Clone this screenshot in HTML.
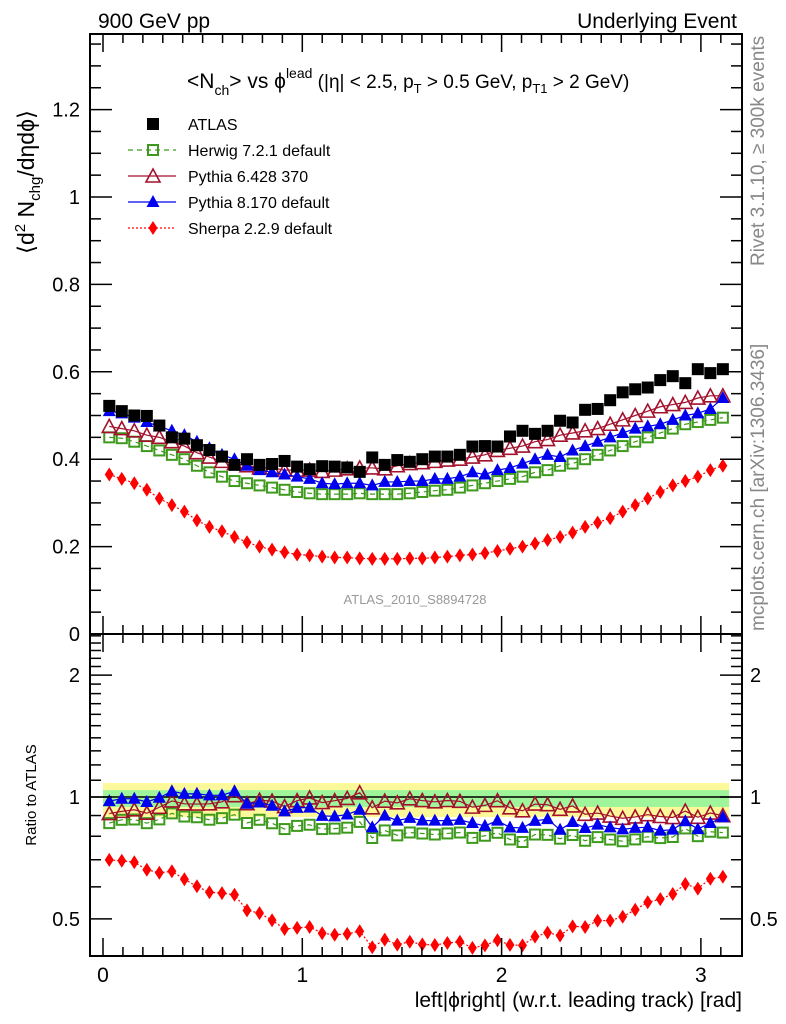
<!DOCTYPE html>
<html><head><meta charset="utf-8">
<style>
body{margin:0;background:#fff;}
svg{display:block;font-family:"Liberation Sans",sans-serif;}
</style></head>
<body>
<svg id="chart" width="786" height="1024" viewBox="0 0 786 1024">
<text x="98" y="28" font-size="21">900 GeV pp</text>
<text x="737" y="28" font-size="21" text-anchor="end">Underlying Event</text>
<text transform="translate(764,266) rotate(-90)" font-size="19" fill="#888">Rivet 3.1.10, ≥ 300k events</text>
<text transform="translate(764,631) rotate(-90)" font-size="19" fill="#888">mcplots.cern.ch [arXiv:1306.3436]</text>
<text transform="translate(34,182) rotate(-90)" font-size="23" text-anchor="middle">⟨d<tspan font-size="15" dy="-9">2</tspan><tspan dy="9"> N</tspan><tspan font-size="15" dy="6">chg</tspan><tspan dy="-6">/dηdϕ⟩</tspan></text>
<text transform="translate(36,795) rotate(-90)" font-size="15" text-anchor="middle">Ratio to ATLAS</text>
<text x="742" y="1007" font-size="21" text-anchor="end">left|ϕright| (w.r.t. leading track) [rad]</text>
<text x="187" y="88" font-size="21">&lt;N<tspan font-size="14" dy="7">ch</tspan><tspan dy="-7">&gt; vs ϕ</tspan><tspan font-size="14" dy="-10">lead</tspan><tspan dy="10" font-size="19"> (|η| &lt; 2.5, p</tspan><tspan font-size="13" dy="5">T</tspan><tspan dy="-5" font-size="19"> &gt; 0.5 GeV, p</tspan><tspan font-size="13" dy="5">T1</tspan><tspan dy="-5" font-size="19"> &gt; 2 GeV)</tspan></text>
<text x="415" y="604" font-size="13" fill="#999" text-anchor="middle">ATLAS_2010_S8894728</text>
<g id="bands"></g>
<g id="marks"></g>
<g id="axes"></g>
<g id="legend"></g>
</svg>
<script>
const atlas=[0.522,0.510,0.500,0.499,0.477,0.450,0.447,0.432,0.421,0.406,0.387,0.400,0.387,0.389,0.396,0.383,0.377,0.384,0.383,0.381,0.371,0.404,0.387,0.398,0.394,0.400,0.406,0.406,0.410,0.429,0.430,0.429,0.452,0.465,0.458,0.465,0.488,0.484,0.513,0.515,0.535,0.553,0.560,0.564,0.581,0.590,0.574,0.606,0.597,0.606];
const herwig=[0.450,0.448,0.440,0.430,0.420,0.410,0.400,0.385,0.370,0.360,0.350,0.345,0.340,0.335,0.330,0.325,0.322,0.320,0.320,0.320,0.322,0.320,0.320,0.320,0.322,0.325,0.328,0.330,0.335,0.340,0.345,0.350,0.355,0.360,0.370,0.375,0.385,0.390,0.400,0.410,0.420,0.430,0.440,0.450,0.460,0.470,0.480,0.485,0.490,0.495];
const pythia6=[0.475,0.470,0.465,0.455,0.450,0.440,0.430,0.415,0.405,0.395,0.390,0.385,0.380,0.380,0.375,0.375,0.375,0.372,0.375,0.378,0.380,0.380,0.378,0.385,0.390,0.392,0.395,0.398,0.400,0.405,0.410,0.420,0.425,0.430,0.440,0.445,0.455,0.460,0.465,0.470,0.480,0.490,0.500,0.510,0.520,0.525,0.530,0.540,0.545,0.545];
const pythia8=[0.510,0.505,0.495,0.485,0.475,0.465,0.455,0.440,0.425,0.410,0.400,0.385,0.375,0.370,0.365,0.360,0.355,0.345,0.343,0.345,0.345,0.340,0.348,0.348,0.350,0.350,0.355,0.355,0.360,0.370,0.365,0.375,0.380,0.390,0.400,0.410,0.405,0.420,0.430,0.440,0.450,0.460,0.470,0.475,0.480,0.490,0.500,0.505,0.515,0.540];
const sherpa=[0.365,0.355,0.345,0.330,0.310,0.295,0.280,0.260,0.245,0.235,0.222,0.210,0.200,0.193,0.187,0.182,0.180,0.177,0.175,0.175,0.173,0.172,0.172,0.172,0.173,0.173,0.175,0.177,0.180,0.182,0.185,0.190,0.195,0.200,0.207,0.215,0.222,0.232,0.245,0.255,0.265,0.280,0.295,0.310,0.325,0.340,0.350,0.360,0.375,0.385];
const yTicksMain=["0","0.2","0.4","0.6","0.8","1","1.2"];
const yTickValsMain=[0,0.2,0.4,0.6,0.8,1,1.2];
const ratioTickLabels=["0.5","1","2"];
const ratioTickVals=[0.5,1,2];
const xTickLabels=["0","1","2","3"];
const xTickVals=[0,1,2,3];
const legendNames=["ATLAS","Herwig 7.2.1 default","Pythia 6.428 370","Pythia 8.170 default","Sherpa 2.2.9 default"];

const NS="http://www.w3.org/2000/svg";
const L=90,R=742,T=34,M=634,B=956;
const X=v=>103+199.3*v;
const Y=v=>634-437*v;
const YR=r=>797-405*Math.log10(r);
function mk(tag,attrs,parent){const e=document.createElementNS(NS,tag);for(const k in attrs)e.setAttribute(k,attrs[k]);parent.appendChild(e);return e;}
const bands=document.getElementById('bands'),marks=document.getElementById('marks'),axes=document.getElementById('axes'),legend=document.getElementById('legend');
const n=atlas.length;const xc=i=>(i+0.5)*Math.PI/n;

let b=mk('rect',{x:X(0),y:YR(1.083),width:X(Math.PI)-X(0),height:YR(0.892)-YR(1.083),fill:'#fdf99a'},bands);


b=mk('rect',{x:X(0),y:YR(1.04),width:X(Math.PI)-X(0),height:YR(0.945)-YR(1.04),fill:'#9ef59a'},bands);


b=mk('line',{x1:L,x2:R,y1:YR(1),y2:YR(1),stroke:'#000','stroke-width':1.5},bands);



function marker(kind,col,x,y,g){
  if(kind==='sq') return mk('rect',{x:x-6,y:y-6,width:12,height:12,fill:'#000'},g);
  if(kind==='osq') return mk('rect',{x:x-5,y:y-5,width:10,height:10,fill:'none',stroke:col,'stroke-width':2},g);
  if(kind==='otri') return mk('polygon',{points:`${x},${y-7} ${x-7},${y+6} ${x+7},${y+6}`,fill:'none',stroke:col,'stroke-width':1.6},g);
  if(kind==='tri') return mk('polygon',{points:`${x},${y-7} ${x-6.5},${y+5} ${x+6.5},${y+5}`,fill:col},g);
  if(kind==='dia') return mk('polygon',{points:`${x},${y-7} ${x-4.5},${y} ${x},${y+7} ${x+4.5},${y}`,fill:col},g);
}
const series=[
 {name:'herwig',vals:herwig,kind:'osq',col:'#3d9a1c',dash:'5,4'},
 {name:'pythia6',vals:pythia6,kind:'otri',col:'#a3112d',dash:''},
 {name:'pythia8',vals:pythia8,kind:'tri',col:'#0000ee',dash:''},
 {name:'sherpa',vals:sherpa,kind:'dia',col:'#ff0000',dash:'2,2'}
];
series.forEach(s=>{
  const g=mk('g',{},marks);
  
  
  const p=mk('polyline',{points:s.vals.map((v,i)=>X(xc(i))+','+Y(v)).join(' '),fill:'none',stroke:s.col,'stroke-width':1.2,'stroke-dasharray':s.dash},g);
  
  
  s.vals.forEach((v,i)=>{const m=marker(s.kind,s.col,X(xc(i)),Y(v),g);
    
    });
  const gr=mk('g',{},marks);
  
  
  const pr=mk('polyline',{points:s.vals.map((v,i)=>X(xc(i))+','+YR(v/atlas[i])).join(' '),fill:'none',stroke:s.col,'stroke-width':1.2,'stroke-dasharray':s.dash},gr);
  
  
  s.vals.forEach((v,i)=>{const m=marker(s.kind,s.col,X(xc(i)),YR(v/atlas[i]),gr);
    
    });
});
const ga=mk('g',{},marks);


atlas.forEach((v,i)=>{const m=marker('sq','#000',X(xc(i)),Y(v),ga);
  
  });

let f=mk('rect',{x:L,y:T,width:R-L,height:M-T,fill:'none',stroke:'#000','stroke-width':2},axes);


f=mk('rect',{x:L,y:M,width:R-L,height:B-M,fill:'none',stroke:'#000','stroke-width':2},axes);


function tk(x1,y1,x2,y2){mk('line',{x1,y1,x2,y2,stroke:'#000','stroke-width':1.5},axes);}
for(let v=0;v<=1.37;v+=0.05){const y=Y(v);const maj=Math.abs(v/0.2-Math.round(v/0.2))<1e-6;const l=maj?22:11;tk(L,y,L+l,y);tk(R,y,R-l,y);}
yTickValsMain.forEach((v,i)=>{const t=mk('text',{x:80,y:Y(v)+7,'font-size':20,'text-anchor':'end'},axes);t.textContent=yTicksMain[i];
  
  });
for(let k=0;k<=31;k++){const v=k/10;const x=X(v);const maj=k%10===0;const l=maj?18:9;
  tk(x,T,x,T+l);tk(x,M,x,M-l);tk(x,M,x,M+l);tk(x,B,x,B-l);}
xTickVals.forEach((v,i)=>{const t=mk('text',{x:X(v),y:982,'font-size':21,'text-anchor':'middle'},axes);t.textContent=xTickLabels[i];
  
  });
for(let k=5;k<=25;k++){const r=k/10;const y=YR(r);if(y<M||y>B)continue;const maj=(k===5||k===10||k===20);const l=maj?22:11;tk(L,y,L+l,y);tk(R,y,R-l,y);}
ratioTickVals.forEach((v,i)=>{let t=mk('text',{x:80,y:YR(v)+7,'font-size':20,'text-anchor':'end'},axes);t.textContent=ratioTickLabels[i];
  
  
  t=mk('text',{x:750,y:YR(v)+7,'font-size':20},axes);t.textContent=ratioTickLabels[i];
  
  });

const kinds=['sq','osq','otri','tri','dia'],cols=['#000','#3d9a1c','#a3112d','#0000ee','#ff0000'],dashes=[null,'5,4','','','2,2'];
legendNames.forEach((nm,i)=>{const y=124+26*i;const g=mk('g',{},legend);
  
  
  if(dashes[i]!==null)mk('line',{x1:128,x2:176,y1:y,y2:y,stroke:cols[i],'stroke-width':1.2,'stroke-dasharray':dashes[i]},g);
  marker(kinds[i],cols[i],153,y,g);
  const t=mk('text',{x:188,y:y+6,'font-size':16},g);t.textContent=nm;});
</script>
</body></html>
